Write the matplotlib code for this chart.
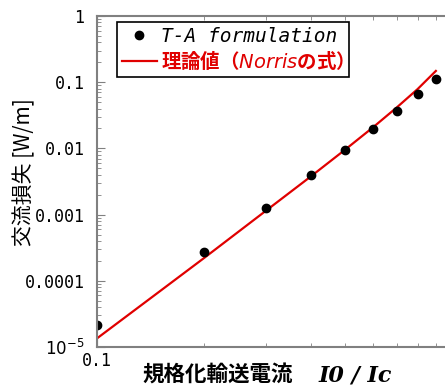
import numpy as np
import matplotlib.pyplot as plt
from matplotlib.ticker import NullFormatter

plt.rcParams['font.family'] = ['Noto Sans CJK JP', 'DejaVu Sans']
plt.rcParams['mathtext.fontset'] = 'dejavusans'

# T-A formulation の計算結果
current = [0.1, 0.2, 0.3, 0.4, 0.5, 0.6, 0.7, 0.8, 0.9]
loss_ta = [2.15e-5, 2.72e-4, 1.26e-3, 3.97e-3, 9.46e-3, 0.0196, 0.0367, 0.0664, 0.112]

# 理論値 (Norrisの式) 図から読み取り
current_th = [0.1, 0.15, 0.2, 0.3, 0.4, 0.5, 0.6, 0.7, 0.8, 0.9]
loss_th = [1.35e-5, 6.9e-5, 2.2e-4, 1.16e-3, 3.77e-3, 9.6e-3, 0.021, 0.042, 0.079, 0.148]

yticks = [1e-5, 1e-4, 1e-3, 1e-2, 1e-1, 1]
ytick_labels = ['$10^{-5}$', '0.0001', '0.001', '0.01', '0.1', '1']

fig = plt.figure(figsize=(4.45, 3.85), dpi=100)
ax = fig.add_axes([0.218, 0.0987, 0.798, 0.8597])

ax.plot(current_th, loss_th, color='#e00000', linewidth=1.6, label='理論値（$\\mathit{Norris}$の式）')
ax.plot(current, loss_ta, 'o', color='black', markersize=6, label='T-A formulation')

ax.set_xscale('log')
ax.set_yscale('log')
ax.set_xlim(0.1, 1)
ax.set_ylim(1e-5, 1)
ax.set_yticks(yticks)
ax.set_yticklabels(ytick_labels)
ax.set_xticks([0.1])
ax.set_xticklabels(['0.1'])
ax.xaxis.set_minor_formatter(NullFormatter())

ax.tick_params(which='both', direction='in', top=True, right=False, colors='#808080',
               labelcolor='black', labelsize=12)
ax.tick_params(axis='y', pad=9)
ax.tick_params(which='major', length=6)
ax.tick_params(which='minor', length=3)
for lab in ax.get_xticklabels() + ax.get_yticklabels():
    lab.set_family(['DejaVu Sans Mono', 'DejaVu Sans'])
for s in ax.spines.values():
    s.set_color('#808080')
    s.set_linewidth(1.5)

ax.set_ylabel('交流損失 [W/m]', fontsize=15)
ax.yaxis.set_label_coords(-0.175, 0.53)
fig.text(0.32, 0.025, '規格化輸送電流', fontsize=15.5, fontweight='bold', va='center')
fig.text(0.715, 0.025, 'I0 / Ic', fontsize=16, style='italic', fontweight='bold',
         family='DejaVu Serif', va='center')

handles, labels = ax.get_legend_handles_labels()
leg = ax.legend(handles[::-1], labels[::-1], loc='upper left', bbox_to_anchor=(0.056, 0.982),
                fancybox=False, edgecolor='black', framealpha=1, fontsize=14,
                handlelength=1.8, handletextpad=0.2, borderpad=0.25, labelspacing=0.15,
                borderaxespad=0)
leg.get_frame().set_linewidth(1.2)
t1, t2 = leg.get_texts()
t1.set_fontstyle('italic')
t1.set_family('DejaVu Sans Mono')
t2.set_color('#e00000')
t2.set_fontweight('bold')

plt.savefig('out.png', dpi=100)
